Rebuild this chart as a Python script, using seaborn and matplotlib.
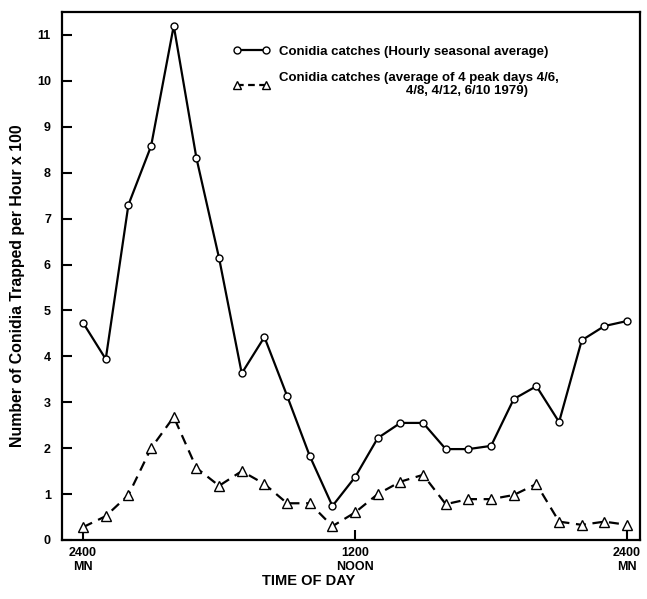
import matplotlib
matplotlib.use("Agg")
import matplotlib.pyplot as plt
import seaborn as sns
import pandas as pd
from matplotlib.lines import Line2D

hours = list(range(25))
hourly_avg = [4.73, 3.94, 7.3, 8.58, 11.2, 8.32, 6.14, 3.63, 4.42, 3.14, 1.83, 0.74, 1.37,
              2.22, 2.55, 2.55, 1.98, 1.98, 2.05, 3.07, 3.35, 2.57, 4.35, 4.66, 4.77]
peak_days = [0.28, 0.52, 0.98, 2.0, 2.68, 1.57, 1.18, 1.5, 1.22, 0.8, 0.8, 0.3, 0.6,
             1.0, 1.27, 1.42, 0.78, 0.89, 0.89, 0.98, 1.22, 0.4, 0.33, 0.4, 0.33]
y_ticks = list(range(12))
x_ticks = [0, 12, 24]
x_labels = ["2400\nMN", "1200\nNOON", "2400\nMN"]
label_a = "Conidia catches (Hourly seasonal average)"
label_b = "Conidia catches (average of 4 peak days 4/6,\n                                   4/8, 4/12, 6/10 1979)"

sns.set_theme(style="white")
plt.rcParams['font.family'] = ['Liberation Sans', 'DejaVu Sans']
plt.rcParams['font.weight'] = 'bold'
plt.rcParams['text.color'] = 'black'
plt.rcParams['axes.labelcolor'] = 'black'
plt.rcParams['xtick.color'] = 'black'
plt.rcParams['ytick.color'] = 'black'

df = pd.DataFrame({"hour": hours, "a": hourly_avg, "b": peak_days})

fig = plt.figure(figsize=(6.47, 5.99), dpi=100)
ax = fig.add_axes([62/647, 59/599, (640-62)/647, (540-12)/599])

sns.lineplot(data=df, x="hour", y="a", ax=ax, color="black", lw=1.6,
             marker="o", markersize=5, markerfacecolor="white", markeredgecolor="black",
             markeredgewidth=1.0)
sns.lineplot(data=df, x="hour", y="b", ax=ax, color="black", lw=1.6,
             marker="^", markersize=7, markerfacecolor="white", markeredgecolor="black",
             markeredgewidth=1.0)
ax.lines[1].set_dashes((4.5, 3))

ax.set_xlim(-0.93, 24.57)
ax.set_ylim(0, 11.5)
ax.set_yticks(y_ticks)
ax.set_yticklabels([str(v) for v in y_ticks], fontsize=9, fontweight='bold')
ax.set_xticks(x_ticks)
ax.set_xticklabels(x_labels, fontsize=9, fontweight='bold', linespacing=1.25)
ax.tick_params(axis='y', direction='in', length=7, width=1.5, color='black',
               left=True, pad=8)
ax.tick_params(axis='x', direction='in', length=7, width=1.5, color='black',
               bottom=True, pad=5)
for s in ax.spines.values():
    s.set_color('black')
    s.set_linewidth(1.6)

ax.set_ylabel("Number of Conidia Trapped per Hour x 100", fontsize=11.4, fontweight='bold')
ax.yaxis.set_label_coords(-(62-25)/578, (599-286-59)/528)
ax.set_xlabel("TIME OF DAY", fontsize=10.5, fontweight='bold')
ax.xaxis.set_label_coords((309-62)/578, -(574-540)/528)

h_a = Line2D([0], [0], color='black', lw=1.6, marker='o', markersize=5,
             markerfacecolor='white', markeredgecolor='black')
h_b = Line2D([0], [0], color='black', lw=1.6, marker='^', markersize=6, dashes=(3, 2),
             markerfacecolor='white', markeredgecolor='black')
leg = ax.legend([h_a, h_b], [label_a, label_b], numpoints=2, frameon=False,
                loc='upper left', bbox_to_anchor=((221-62)/578, (540-34)/528),
                handlelength=2.8, handletextpad=0.7,
                prop={'size': 9.5, 'weight': 'bold'}, labelspacing=1.05)
for t in leg.get_texts():
    t.set_multialignment('left')
    t.set_linespacing(1.15)

fig.savefig("out.png", dpi=100, facecolor='white')
